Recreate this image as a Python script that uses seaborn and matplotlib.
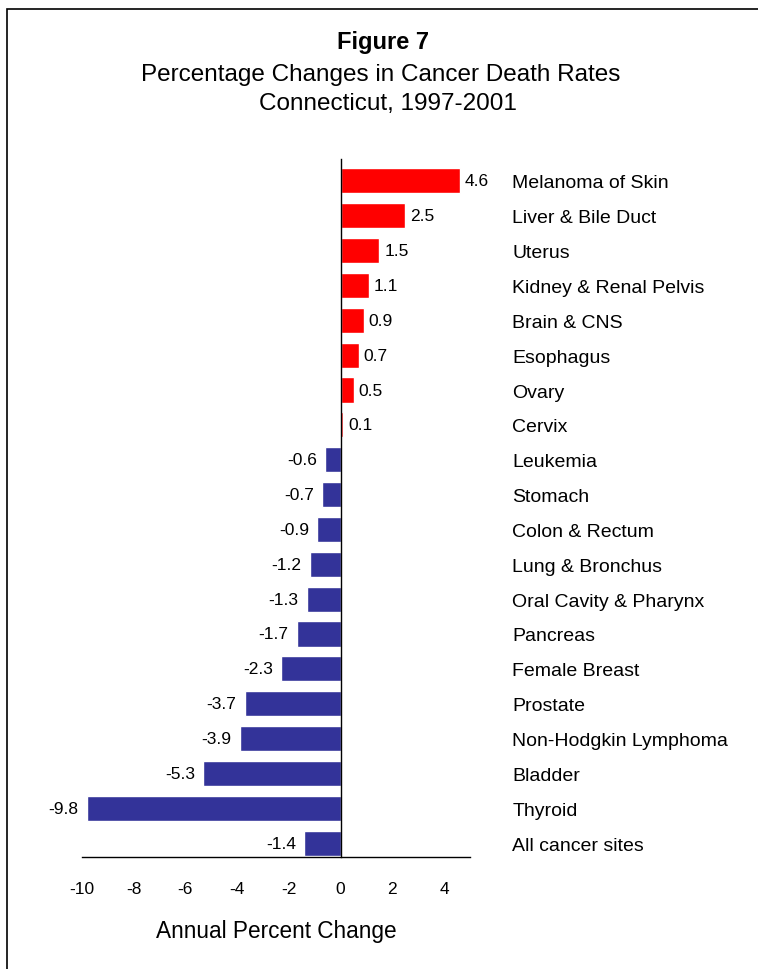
import matplotlib
matplotlib.use("Agg")
import matplotlib.pyplot as plt
import seaborn as sns
import pandas as pd
from matplotlib.patches import Rectangle

sites = ["Melanoma of Skin", "Liver & Bile Duct", "Uterus", "Kidney & Renal Pelvis",
         "Brain & CNS", "Esophagus", "Ovary", "Cervix", "Leukemia", "Stomach",
         "Colon & Rectum", "Lung & Bronchus", "Oral Cavity & Pharynx", "Pancreas",
         "Female Breast", "Prostate", "Non-Hodgkin Lymphoma", "Bladder", "Thyroid",
         "All cancer sites"]
apc = [4.6, 2.5, 1.5, 1.1, 0.9, 0.7, 0.5, 0.1, -0.6, -0.7, -0.9, -1.2, -1.3, -1.7,
       -2.3, -3.7, -3.9, -5.3, -9.8, -1.4]
x_ticks = [-10, -8, -6, -4, -2, 0, 2, 4]

RED = "#FF0000"
BLUE = "#333399"

sns.set_style("white")
plt.rcParams['font.family'] = ['Liberation Sans', 'DejaVu Sans']
plt.rcParams['text.color'] = 'black'
plt.rcParams['xtick.color'] = 'black'
plt.rcParams['ytick.color'] = 'black'
plt.rcParams['axes.labelcolor'] = 'black'

df = pd.DataFrame({"site": sites, "apc": apc})
df["sign"] = ["pos" if v > 0 else "neg" for v in apc]

fig = plt.figure(figsize=(7.58, 9.70), dpi=100)
ax = fig.add_axes([81.7 / 758, 1 - 858 / 970, (470 - 81.7) / 758, (858 - 160) / 970])

sns.barplot(data=df, x="apc", y="site", hue="sign", palette={"pos": RED, "neg": BLUE},
            order=sites, orient="h", width=0.72, dodge=False, legend=False,
            saturation=1, ax=ax)

ax.set_xlim(-10, 5)
ax.set_ylim(19.4, -0.63)
ax.set_xticks(x_ticks)
ax.set_xticklabels([str(t) for t in x_ticks], fontsize=12.5)

for s in ["top", "right"]:
    ax.spines[s].set_visible(False)
ax.spines["left"].set_position(("data", 0))
ax.spines["left"].set_color("black")
ax.spines["left"].set_linewidth(1.0)
ax.spines["bottom"].set_color("black")
ax.spines["bottom"].set_linewidth(1.0)

ax.tick_params(axis="x", direction="in", length=5, width=1, color="black", pad=17)
ax.tick_params(axis="y", left=False, right=False, labelleft=False, labelright=True,
               labelsize=14, pad=27)
for lbl in ax.get_yticklabels():
    lbl.set_ha("left")
ax.set_ylabel("")
ax.set_xlabel("")

for i, v in enumerate(apc):
    if v >= 0:
        ax.annotate(f"{v:.1f}", (v, i), xytext=(3.5, 0), textcoords="offset points",
                    ha="left", va="center", fontsize=12.5)
    else:
        ax.annotate(f"{v:.1f}", (v, i), xytext=(-6, 0), textcoords="offset points",
                    ha="right", va="center", fontsize=12.5)

fig.text(383 / 758, 1 - 42 / 970, "Figure 7", ha="center", va="center",
         fontsize=17, fontweight="bold")
fig.text(381 / 758, 1 - 75 / 970, "Percentage Changes in Cancer Death Rates",
         ha="center", va="center", fontsize=17.5)
fig.text(388 / 758, 1 - 104 / 970, "Connecticut, 1997-2001",
         ha="center", va="center", fontsize=17.5)
fig.text(276 / 758, 1 - 932 / 970, "Annual Percent Change",
         ha="center", va="center", fontsize=16.3)

fig.patches.append(Rectangle((7 / 758, -0.05), 1.2, 1 - 10 / 970 + 0.05,
                             transform=fig.transFigure, fill=False,
                             edgecolor="black", linewidth=1.2))

fig.savefig("out.png", dpi=100)
